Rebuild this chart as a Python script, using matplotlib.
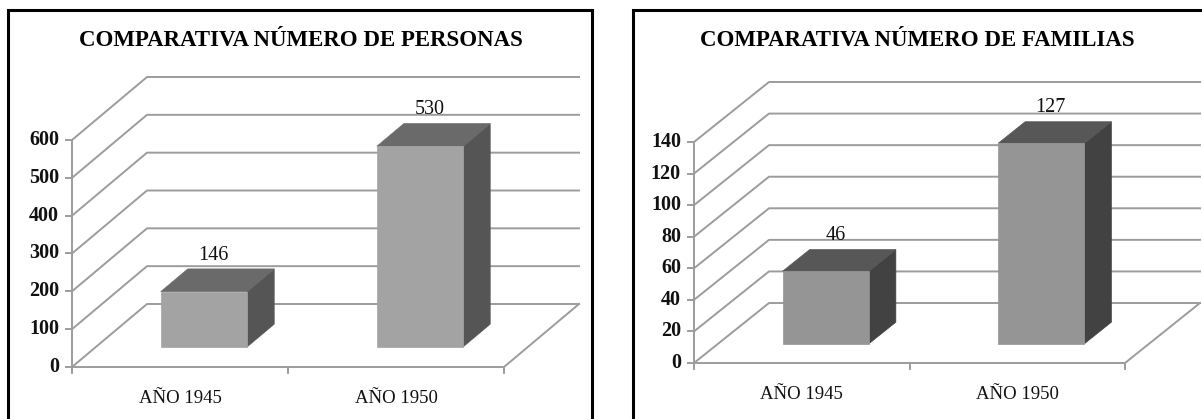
import matplotlib
matplotlib.use('Agg')
import matplotlib.pyplot as plt
from matplotlib.patches import Polygon, Rectangle
from matplotlib.lines import Line2D
import matplotlib.transforms as mtransforms

# ---------------- data ----------------
categories = ['AÑO 1945', 'AÑO 1950']
personas = [146, 530]
familias = [46, 127]
title_personas = 'COMPARATIVA NÚMERO DE PERSONAS'
title_familias = 'COMPARATIVA NÚMERO DE FAMILIAS'
ticks_personas = [0, 100, 200, 300, 400, 500, 600]
ticks_familias = [0, 20, 40, 60, 80, 100, 120, 140]

# ---------------- figure ----------------
W, H = 1202, 419
DPI = 100
plt.rcParams['font.family'] = ['Liberation Serif', 'DejaVu Serif']

fig = plt.figure(figsize=(W / DPI, H / DPI), dpi=DPI)
fig.patch.set_facecolor('white')
IDT = mtransforms.IdentityTransform()

GRID = '#9c9c9c'


def px_axes(x0, y_top, x1, y_bottom):
    ax = fig.add_axes([x0 / W, 1 - y_bottom / H, (x1 - x0) / W, (y_bottom - y_top) / H])
    ax.set_axis_off()
    return ax


def panel(ax, values, ticks, title, title_x, DX, DY, colors):
    ncat = len(categories)
    ax.set_xlim(0, ncat)
    ax.set_ylim(0, ticks[-1])

    def P(x, v, d):
        px, py = ax.transData.transform((x, v))
        return (px + d * DX, py + d * DY)

    def line(pts, **kw):
        xs = [p[0] for p in pts]
        ys = [p[1] for p in pts]
        ax.add_line(Line2D(xs, ys, transform=IDT, clip_on=False, **kw))

    lw = 1.4
    # back wall gridlines and side wall diagonals
    for v in ticks:
        line([P(0, v, 0), P(0, v, 1), P(ncat, v, 1)], color=GRID, lw=lw, zorder=1)
    # floor
    line([P(0, 0, 0), P(ncat, 0, 0), P(ncat, 0, 1)], color=GRID, lw=lw, zorder=1)
    # front value axis
    line([P(0, 0, 0), P(0, ticks[-1], 0)], color=GRID, lw=lw, zorder=1)
    for v in ticks:
        x, y = P(0, v, 0)
        line([(x - 6, y), (x, y)], color=GRID, lw=lw, zorder=1)
        ax.annotate(str(v), xy=(0, v), xytext=(-13, 0), textcoords='offset pixels',
                    ha='right', va='center', fontsize=14.5, fontweight='bold',
                    color='#111111')
    for i in range(ncat + 1):
        x, y = P(i, 0, 0)
        line([(x, y), (x, y - 6)], color=GRID, lw=lw, zorder=1)
    for i, c in enumerate(categories):
        ax.annotate(c, xy=(i + 0.5, 0), xytext=(0, -31), textcoords='offset pixels',
                    ha='center', va='center', fontsize=13.5,
                    color='#111111')

    # bars
    d0, d1 = 0.32, 0.68
    cf, ct, cs = colors
    for i, v in enumerate(values):
        x0, x1 = i + 0.3, i + 0.7
        front = [P(x0, 0, d0), P(x1, 0, d0), P(x1, v, d0), P(x0, v, d0)]
        top = [P(x0, v, d0), P(x1, v, d0), P(x1, v, d1), P(x0, v, d1)]
        side = [P(x1, 0, d0), P(x1, 0, d1), P(x1, v, d1), P(x1, v, d0)]
        for pts, col in ((side, cs), (top, ct), (front, cf)):
            ax.add_patch(Polygon(pts, closed=True, transform=IDT, clip_on=False,
                                 facecolor=col, edgecolor=col, lw=0.5, zorder=3))
        ax.annotate(str(v), xy=(i + 0.5, v),
                    xytext=(0.5 * DX - 4, 0.5 * DY + 25), textcoords='offset pixels',
                    ha='center', va='center', fontsize=14.5, color='#111111', zorder=4)

    fig.text(title_x / W, 1 - 40 / H, title, ha='center', va='center',
             fontsize=16.5, fontweight='bold', color='black')


# left panel: front axis x 72..504, value 0 at y=367, 600 at y=140
axL = px_axes(72, 140, 504, 367)
panel(axL, personas, ticks_personas, title_personas, 301, 75, 63,
      ('#a3a3a3', '#6a6a6a', '#555555'))

# right panel: front axis x 694..1125, value 0 at y=363, 140 at y=142
axR = px_axes(694, 142, 1125, 363)
panel(axR, familias, ticks_familias, title_familias, 917, 75, 60,
      ('#959595', '#575757', '#424242'))

# panel frames (cut by the image edges as in the reference)
for (x0, y0, x1, y1) in [(8, 10, 592, 440), (633, 10, 1230, 440)]:
    fig.add_artist(Rectangle((x0, H - y1), x1 - x0, y1 - y0, transform=IDT,
                             fill=False, edgecolor='black', lw=2.2, zorder=10))

fig.savefig('out.png', dpi=DPI, facecolor='white')
